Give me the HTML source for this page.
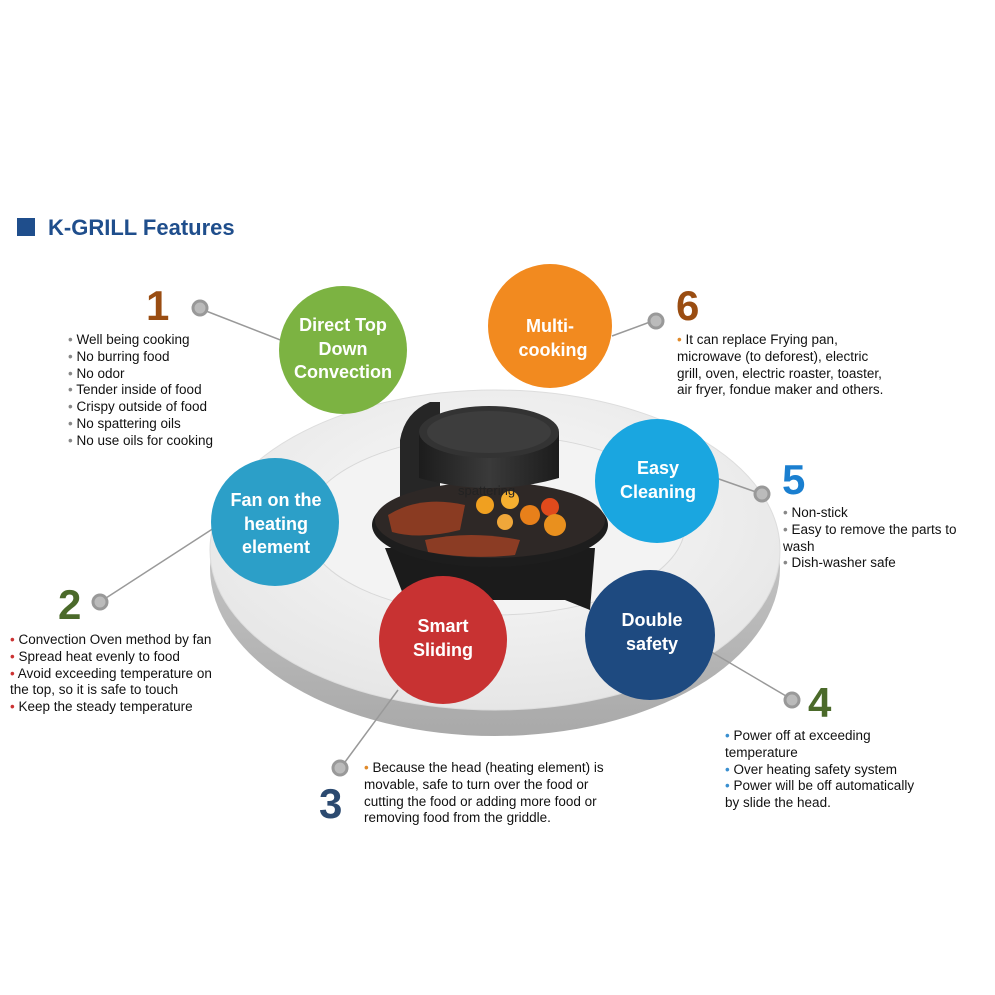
<!DOCTYPE html>
<html><head><meta charset="utf-8"><style>
body{margin:0;background:#fff;width:995px;height:995px;overflow:hidden;font-family:"Liberation Sans",sans-serif}
svg{position:absolute;left:0;top:0}
.t{position:absolute;font-size:13.5px;line-height:16.8px;color:#111;white-space:nowrap}
.b{color:#888}
</style></head><body>
<svg width="995" height="995" viewBox="0 0 995 995">
<defs>
<radialGradient id="disc" cx="50%" cy="40%" r="60%"><stop offset="0" stop-color="#fafafa"/><stop offset="1" stop-color="#e6e6e6"/></radialGradient>
<linearGradient id="side" x1="0" y1="0" x2="0" y2="1"><stop offset="0" stop-color="#d8d8d8"/><stop offset="1" stop-color="#a9a9a9"/></linearGradient>
<linearGradient id="head" x1="0" y1="0" x2="1" y2="0"><stop offset="0" stop-color="#1c1c1c"/><stop offset="0.5" stop-color="#3a3a3a"/><stop offset="1" stop-color="#1c1c1c"/></linearGradient>
</defs>
<!-- disc -->
<ellipse cx="495" cy="568" rx="285" ry="168" fill="url(#side)"/>
<ellipse cx="495" cy="550" rx="285" ry="160" fill="url(#disc)" stroke="#ddd"/>
<ellipse cx="495" cy="525" rx="190" ry="90" fill="#f3f3f3" stroke="#d8d8d8"/>
<!-- grill -->
<path d="M400 440 Q405 412 430 402 L440 402 L440 520 L400 520 Z" fill="#262626"/>
<path d="M385 548 L595 548 L590 610 L565 600 L440 600 L410 612 Z" fill="#1b1b1b"/>
<ellipse cx="490" cy="525" rx="118" ry="42" fill="#1d1d1d"/>
<ellipse cx="490" cy="520" rx="115" ry="38" fill="#2e2826"/>
<path d="M388 515 Q420 495 465 505 L460 530 Q420 540 392 532Z" fill="#8a3b22"/>
<path d="M425 540 Q470 530 520 540 L515 555 Q470 560 428 552Z" fill="#8b3c24"/>
<circle cx="485" cy="505" r="9" fill="#f0a020"/><circle cx="510" cy="500" r="9" fill="#f6b030"/>
<circle cx="530" cy="515" r="10" fill="#e8801a"/><circle cx="550" cy="507" r="9" fill="#e04a1c"/>
<circle cx="555" cy="525" r="11" fill="#e9901e"/><circle cx="505" cy="522" r="8" fill="#f0a73a"/>
<path d="M419 432 L559 432 L559 478 Q489 498 419 478 Z" fill="url(#head)"/>
<ellipse cx="489" cy="432" rx="70" ry="26" fill="#333"/>
<ellipse cx="489" cy="432" rx="62" ry="21" fill="#3d3d3d"/>
<text x="458" y="495" font-family="Liberation Sans" font-size="13" fill="#222">spattering</text>
<!-- connectors -->
<g stroke="#999" stroke-width="1.5" fill="none">
<line x1="206" y1="311" x2="306" y2="350"/>
<line x1="650" y1="322" x2="612" y2="336"/>
<line x1="756" y1="492" x2="716" y2="478"/>
<line x1="106" y1="598" x2="214" y2="528"/>
<line x1="786" y1="696" x2="708" y2="650"/>
<line x1="345" y1="762" x2="398" y2="690"/>
</g>
<g fill="#bbb" stroke="#999" stroke-width="3">
<circle cx="200" cy="308" r="7"/><circle cx="656" cy="321" r="7"/><circle cx="762" cy="494" r="7"/>
<circle cx="100" cy="602" r="7"/><circle cx="792" cy="700" r="7"/><circle cx="340" cy="768" r="7"/>
</g>
<!-- circles -->
<g font-family="Liberation Sans" font-weight="bold" font-size="18" fill="#fff" text-anchor="middle">
<circle cx="343" cy="350" r="64" fill="#7cb342"/>
<text x="343" y="331">Direct Top</text><text x="343" y="355">Down</text><text x="343" y="378">Convection</text>
<circle cx="550" cy="326" r="62" fill="#f28a1f"/>
<text x="550" y="332">Multi-</text><text x="553" y="356">cooking</text>
<circle cx="657" cy="481" r="62" fill="#1aa6e0"/>
<text x="658" y="474">Easy</text><text x="658" y="498">Cleaning</text>
<circle cx="275" cy="522" r="64" fill="#2c9fc8"/>
<text x="276" y="506">Fan on the</text><text x="276" y="530">heating</text><text x="276" y="553">element</text>
<circle cx="443" cy="640" r="64" fill="#c83232"/>
<text x="443" y="632">Smart</text><text x="443" y="656">Sliding</text>
<circle cx="650" cy="635" r="65" fill="#1e4a80"/>
<text x="652" y="626">Double</text><text x="652" y="650">safety</text>
</g>
<!-- numbers -->
<g font-family="Liberation Sans" font-weight="bold" font-size="42">
<text x="146" y="320" fill="#9a4d12">1</text>
<text x="676" y="320" fill="#9a4d12">6</text>
<text x="782" y="494" fill="#1a7fd0">5</text>
<text x="58" y="619" fill="#4b6a2a">2</text>
<text x="808" y="717" fill="#4b6a2a">4</text>
<text x="319" y="818" fill="#2c4a70">3</text>
</g>
<rect x="17" y="218" width="18" height="18" fill="#1f4e8c"/>
<text x="48" y="235" font-family="Liberation Sans" font-weight="bold" font-size="22" fill="#1f4e8c">K-GRILL  Features</text>
</svg>
<div class="t" style="left:68px;top:332px"><span class="b">•</span> Well being cooking<br><span class="b">•</span> No burring food<br><span class="b">•</span> No odor<br><span class="b">•</span> Tender inside of food<br><span class="b">•</span> Crispy outside of food<br><span class="b">•</span> No spattering oils<br><span class="b">•</span> No use oils for cooking</div>
<div class="t" style="left:677px;top:332px"><span style="color:#e08a2a">•</span>  It can replace Frying pan,<br>microwave (to deforest), electric<br>grill, oven, electric roaster, toaster,<br>air fryer, fondue maker and others.</div>
<div class="t" style="left:783px;top:505px"><span class="b">•</span> Non-stick<br><span class="b">•</span> Easy to remove the parts to<br>wash<br><span class="b">•</span> Dish-washer safe</div>
<div class="t" style="left:10px;top:632px"><span style="color:#c33">•</span> Convection Oven method  by fan<br><span style="color:#c33">•</span> Spread heat evenly to food<br><span style="color:#c33">•</span> Avoid exceeding temperature on<br>the top, so it is safe to touch<br><span style="color:#c33">•</span> Keep the steady temperature</div>
<div class="t" style="left:725px;top:728px"><span style="color:#3a8fd0">•</span> Power off at exceeding<br>temperature<br><span style="color:#3a8fd0">•</span> Over heating safety system<br><span style="color:#3a8fd0">•</span> Power will be off automatically<br>by slide the head.</div>
<div class="t" style="left:364px;top:760px"><span style="color:#e08a2a">•</span> Because the head (heating element) is<br>movable, safe to turn over the food or<br>cutting the food or adding more food or<br>removing food from the griddle.</div>
</body></html>
